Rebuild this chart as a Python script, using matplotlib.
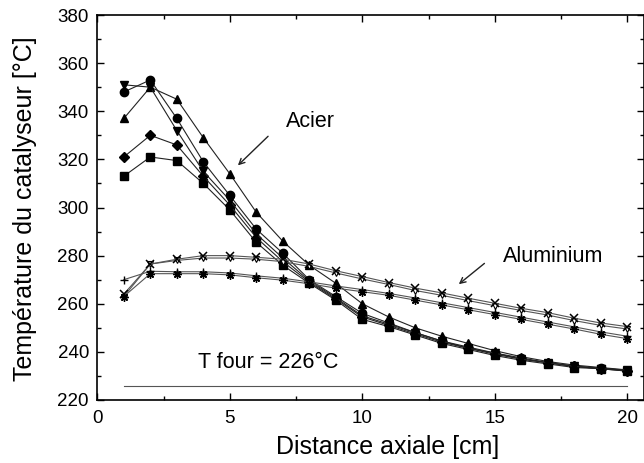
import numpy as np
import matplotlib
matplotlib.use("Agg")
import matplotlib.pyplot as plt
from matplotlib.ticker import MultipleLocator

plt.rcParams['font.family'] = ['Liberation Sans', 'DejaVu Sans']

# Distance axiale (cm)
x = np.arange(1, 21)

# Réacteur en acier
acier_carre = [313, 321, 319.5, 310, 299, 285.5, 276, 268.5, 261.5, 253.5, 250.5, 247, 243.5, 241, 238.5, 236.5, 235, 233.5, 233, 232]
acier_losange = [321, 330, 326, 313, 301, 287.5, 277.5, 269, 262, 254.5, 251, 247.5, 244, 241.5, 239, 237, 235.5, 234, 233, 232]
acier_tri_haut = [337, 350, 345, 329, 314, 298, 286, 276, 268.5, 260, 254.5, 250, 246.5, 243.5, 240.5, 238, 236, 234.5, 233.5, 232.5]
acier_cercle = [348, 353, 337, 319, 305, 291, 281, 270, 263, 256, 252, 248, 244.5, 242, 239.5, 237.5, 235.5, 234, 233.3, 232.2]
acier_tri_bas = [351, 350, 332, 315, 303, 289, 279, 269.5, 262.5, 255, 251.5, 248, 244.5, 241.5, 239.5, 237, 235.5, 234, 233, 232.5]

# Réacteur en aluminium
alu_a = [264, 276.5, 278.5, 280, 280, 279.3, 278.5, 276.5, 273.7, 271.3, 268.8, 266.5, 264.5, 262.3, 260.2, 258.1, 256.3, 254, 252, 250.5]
alu_b = [263, 276.5, 278, 279, 279, 278.5, 277.5, 275.5, 272.8, 270.3, 268, 265.5, 263.5, 261.3, 259.2, 257.2, 255.3, 253, 251, 249.5]
alu_c = [263, 272.5, 272.5, 272.5, 272, 270.8, 269.8, 268.3, 266.5, 265, 263.5, 261.5, 259.5, 257.5, 255.5, 253.5, 251.5, 249.5, 247.3, 245.5]
alu_d = [270, 273.5, 273.3, 273.3, 272.8, 271.6, 270.6, 269.1, 267.4, 265.9, 264.3, 262.4, 260.4, 258.4, 256.4, 254.4, 252.4, 250.4, 248.3, 246.5]

t_four = 226

fig = plt.figure(figsize=(6.44, 4.63), dpi=100)
ax = fig.add_axes([97.3 / 644, 1 - 400 / 463, 1 - 97.3 / 644, 385 / 463])

for y, m in [(acier_carre, 's'), (acier_losange, 'D'), (acier_tri_haut, '^'),
             (acier_cercle, 'o'), (acier_tri_bas, 'v')]:
    ms = 5 if m == 'D' else 6
    ax.plot(x, y, color='#222222', lw=0.8, marker=m, ms=ms,
            mfc='black', mec='black')

ax.plot(x, alu_b, color='#555555', lw=0.8, marker='v', ms=5,
        mfc='white', mec='black', mew=0.8)
ax.plot(x, alu_a, color='#555555', lw=0.8, marker='x', ms=6,
        mec='black', mew=1.1)
ax.plot(x, alu_d, color='#555555', lw=0.8, marker='+', ms=6,
        mec='black', mew=1.0)
ax.plot(x, alu_c, color='#555555', lw=0.8, marker=(8, 2, 0), ms=6,
        mec='black', mew=1.0)

ax.plot([1, 20], [t_four, t_four], color='#555555', lw=0.8)
ax.text(3.8, 235.4, 'T four = 226°C', fontsize=15.5, va='center', ha='left')

ax.annotate('', xy=(5.23, 316.7), xytext=(6.52, 330.4),
            arrowprops=dict(arrowstyle='->', color='#222222', lw=1.0))
ax.text(7.12, 335.9, 'Acier', fontsize=15.5, va='center', ha='left')

ax.annotate('', xy=(13.56, 267.4), xytext=(14.69, 277.5),
            arrowprops=dict(arrowstyle='->', color='#222222', lw=1.0))
ax.text(15.3, 279.6, 'Aluminium', fontsize=15.5, va='center', ha='left')

ax.set_xlim(0, 20.63)
ax.set_ylim(220, 380)
ax.xaxis.set_major_locator(MultipleLocator(5))
ax.xaxis.set_minor_locator(MultipleLocator(2.5))
ax.yaxis.set_major_locator(MultipleLocator(20))
ax.yaxis.set_minor_locator(MultipleLocator(10))
ax.tick_params(which='both', direction='in', top=True, right=True,
               labelsize=13.5, width=1.0)
ax.tick_params(which='major', length=5)
ax.tick_params(which='minor', length=3)
ax.tick_params(axis='x', pad=7)
ax.tick_params(axis='y', pad=6)
for s in ax.spines.values():
    s.set_linewidth(1.2)

fig.text(388 / 644, 1 - 447 / 463, 'Distance axiale [cm]', fontsize=18,
         ha='center', va='center')
fig.text(25 / 644, 1 - 209 / 463, 'Température du catalyseur [°C]',
         fontsize=18, ha='center', va='center', rotation=90)

fig.savefig('out.png', dpi=100)
